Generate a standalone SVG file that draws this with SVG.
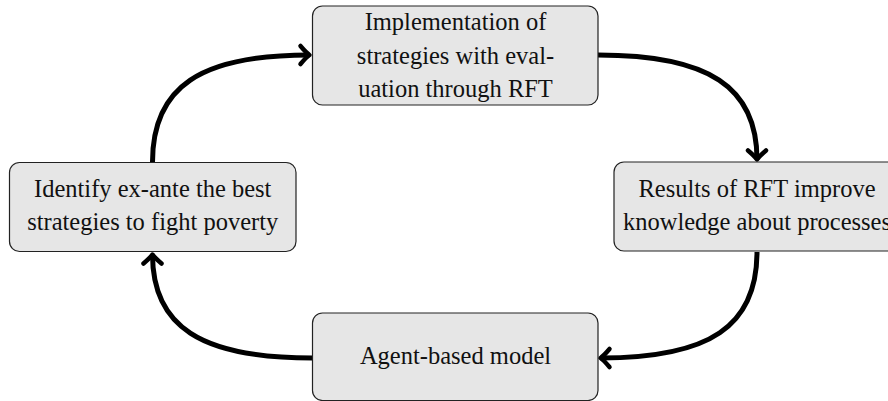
<svg xmlns="http://www.w3.org/2000/svg" width="888" height="401" viewBox="0 0 888 401">
  <style>
    .box { fill: #e6e6e6; stroke: #222; stroke-width: 1.2; }
    .lbl { font-family: "Liberation Serif", "Times New Roman", serif; font-size: 24.5px; fill: #111; text-anchor: middle; }
    .conn { fill: none; stroke: #000; stroke-width: 5; marker-end: url(#ah); }
  </style>
  <defs>
    <marker id="ah" markerUnits="userSpaceOnUse" markerWidth="30" markerHeight="30" viewBox="-15 -15 30 30" refX="0" refY="0" orient="auto" overflow="visible">
      <path d="M-9,-9 Q-3,-2 0,0 Q-3,2 -9,9" fill="none" stroke="#000" stroke-width="4.5" stroke-linecap="round" stroke-linejoin="round"/>
    </marker>
  </defs>
  <rect width="888" height="401" fill="#fff"/>
  <g id="connectors">
    <path class="conn" d="M152.5,162 C152.5,87 200,55 309.5,55"/>
    <path class="conn" d="M598,55 C709,55 757,87 757,159.5"/>
    <path class="conn" d="M757,252 C757,326 710,358 600.5,358"/>
    <path class="conn" d="M312.5,358 C200,358 152.5,326 152.5,254.5"/>
  </g>
  <g id="node-implementation">
    <rect class="box" x="312.5" y="6" width="285.5" height="99" rx="10"/>
    <text class="lbl" x="455.5" y="30">Implementation of</text>
    <text class="lbl" x="455.5" y="63.5">strategies with eval-</text>
    <text class="lbl" x="455.5" y="96.5">uation through RFT</text>
  </g>
  <g id="node-identify">
    <rect class="box" x="9.5" y="162.5" width="286.5" height="89" rx="10"/>
    <text class="lbl" x="152.7" y="196.5">Identify ex-ante the best</text>
    <text class="lbl" x="152.7" y="230">strategies to fight poverty</text>
  </g>
  <g id="node-results">
    <rect class="box" x="614" y="162" width="287" height="89" rx="10"/>
    <text class="lbl" x="757" y="196.5">Results of RFT improve</text>
    <text class="lbl" x="757" y="230">knowledge about processes</text>
  </g>
  <g id="node-abm">
    <rect class="box" x="312.5" y="313" width="285.5" height="87.5" rx="10"/>
    <text class="lbl" x="455.5" y="364">Agent-based model</text>
  </g>
</svg>
